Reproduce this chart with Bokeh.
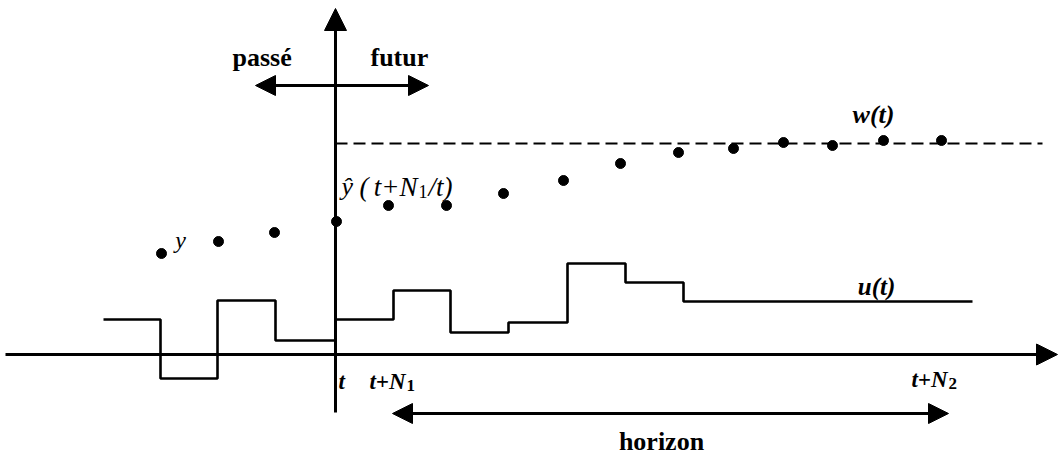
from bokeh.plotting import figure
from bokeh.models import Range1d, Arrow, NormalHead
from bokeh.core.properties import value
from bokeh.embed import file_html
from bokeh.resources import INLINE

# Coordinate frame: x measured from the present instant t, y measured from the time axis.
# Control signal u(t): step breakpoints and levels (held after each breakpoint)
u_x = [-232, -175, -118, -60, 0, 58, 115, 173, 232, 290, 348, 637]
u_y = [35, -24, 54, 14, 35, 64, 22, 32, 91, 72, 53, 53]

# Past measured outputs y
past_x = [-174, -117, -61, 1]
past_y = [101, 113, 122, 133]

# Predicted outputs y^(t+k/t)
pred_x = [53, 111, 168, 228, 285, 343, 398, 448, 497, 548, 606]
pred_y = [149, 149, 161, 174, 191, 202, 206, 212, 209, 214, 214]

# Reference trajectory w(t)
w_level = 211
w_x = [0, 707]

# Axes extents
axis_left, axis_right = -330, 722
vert_bottom, vert_top = -58, 346

# Double arrows (past/future and horizon)
pf_x = [-80, 93]
pf_y = 269
hz_x = [57, 613]
hz_y = -59

FONT = value("Liberation Serif")

p = figure(width=1058, height=457, x_range=Range1d(-335, 723), y_range=Range1d(-103, 354),
           x_axis_type=None, y_axis_type=None, toolbar_location=None,
           output_backend="svg", min_border=0, outline_line_color=None,
           background_fill_color="white", border_fill_color="white")
p.xgrid.visible = False
p.ygrid.visible = False

# time axis
p.add_layout(Arrow(end=NormalHead(size=21, fill_color="black", line_color="black"),
                   x_start=axis_left, y_start=0, x_end=axis_right, y_end=0,
                   line_width=3, line_color="black"))
# vertical axis at t
p.add_layout(Arrow(end=NormalHead(size=22, fill_color="black", line_color="black"),
                   x_start=0, y_start=vert_bottom, x_end=0, y_end=vert_top,
                   line_width=3, line_color="black"))
# passé / futur arrow
p.add_layout(Arrow(start=NormalHead(size=20, fill_color="black", line_color="black"),
                   end=NormalHead(size=20, fill_color="black", line_color="black"),
                   x_start=pf_x[0], y_start=pf_y, x_end=pf_x[1], y_end=pf_y,
                   line_width=3, line_color="black"))
# horizon arrow
p.add_layout(Arrow(start=NormalHead(size=20, fill_color="black", line_color="black"),
                   end=NormalHead(size=20, fill_color="black", line_color="black"),
                   x_start=hz_x[0], y_start=hz_y, x_end=hz_x[1], y_end=hz_y,
                   line_width=3, line_color="black"))

# reference trajectory
p.line(w_x, [w_level, w_level], line_color="black", line_width=2, line_dash="12 6")

# control signal
p.step(u_x, u_y, mode="after", line_color="black", line_width=2.6)

# outputs
p.scatter(past_x, past_y, size=10, color="black")
p.scatter(pred_x, pred_y, size=10, color="black")

def txt(x, y, s, size, style="normal", align="left"):
    p.text(x=[x], y=[y], text=[s], text_font=FONT, text_font_size=f"{size}px",
           text_font_style=style, text_align=align, text_baseline="alphabetic",
           text_color="black")

# labels
txt(-103, 297, "passé", 26, "bold")
txt(35, 297, "futur", 26, "bold")
txt(538, 240, "w(t)", 26, "bold italic", "center")
txt(541, 68, "u(t)", 25, "bold italic", "center")
txt(-155, 115, "y", 24, "italic", "center")
txt(326, -87, "horizon", 26, "bold", "center")

# y^ (t+N1/t)
txt(6, 168, "ŷ", 26, "italic")
txt(24, 168, "(", 27, "italic")
txt(82, 168, "t+N", 27, "italic", "right")
txt(83, 163, "1", 18, "normal")
txt(93, 168, "/t)", 27, "italic")

# tick labels
txt(3, -27, "t", 23, "bold italic")
txt(70, -27, "t+N", 23, "bold italic", "right")
txt(71, -31, "1", 17, "bold")
txt(612, -25, "t+N", 23, "bold italic", "right")
txt(613, -29, "2", 17, "bold")

open("out.html", "w").write(file_html(p, INLINE))
